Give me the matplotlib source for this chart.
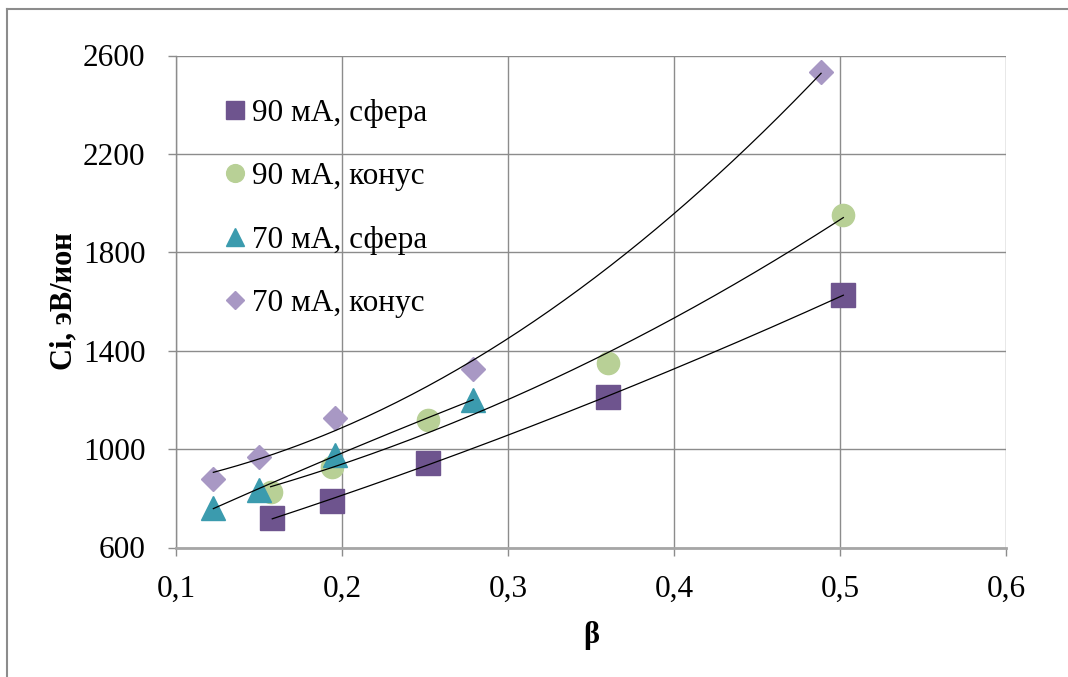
import numpy as np
import matplotlib
matplotlib.use("Agg")
import matplotlib.pyplot as plt
from matplotlib.lines import Line2D
from matplotlib.ticker import FuncFormatter

plt.rcParams['font.family'] = ['Liberation Serif', 'DejaVu Serif']

# data
beta_sph90 = [0.158, 0.194, 0.252, 0.360, 0.502]
ci_sph90 = [720, 790, 943, 1213, 1626]

beta_con90 = [0.157, 0.194, 0.252, 0.360, 0.502]
ci_con90 = [826, 927, 1118, 1349, 1952]

beta_sph70 = [0.1225, 0.150, 0.196, 0.279]
ci_sph70 = [761, 834, 976, 1200]

beta_con70 = [0.1225, 0.150, 0.196, 0.279, 0.4886]
ci_con70 = [878, 968, 1126, 1326, 2532]

x_ticks = [0.1, 0.2, 0.3, 0.4, 0.5, 0.6]
y_ticks = [600, 1000, 1400, 1800, 2200, 2600]

labels = ["90 мА, сфера", "90 мА, конус", "70 мА, сфера", "70 мА, конус"]
colors = ["#6e548e", "#b8d096", "#3b9bae", "#a898c4"]
markers = ["s", "o", "^", "D"]
sizes = [17, 16, 17, 12]

series = [(beta_sph90, ci_sph90), (beta_con90, ci_con90),
          (beta_sph70, ci_sph70), (beta_con70, ci_con70)]

fig = plt.figure(figsize=(10.68, 6.77), dpi=100)
ax = fig.add_axes([176/1068, 1 - 547.5/677, 830/1068, 492/677])

handles = []
for (x, y), lab, c, m, s in zip(series, labels, colors, markers, sizes):
    h, = ax.plot(x, y, linestyle="none", marker=m, ms=s, color=c,
                 markeredgecolor=c, label=lab, zorder=3)
    handles.append(h)
    # 2nd order polynomial trend line
    coef = np.polyfit(x, y, 2)
    xx = np.linspace(min(x), max(x), 200)
    ax.plot(xx, np.polyval(coef, xx), color="black", lw=0.9, zorder=4)

ax.set_xlim(0.1, 0.6)
ax.set_ylim(600, 2600)
ax.set_xticks(x_ticks)
ax.set_yticks(y_ticks)
ax.xaxis.set_major_formatter(FuncFormatter(lambda v, p: f"{v:.1f}".replace(".", ",")))
ax.yaxis.set_major_formatter(FuncFormatter(lambda v, p: f"{v:.0f}"))

ax.grid(True, color="#8c8c8c", lw=1.0)
ax.set_axisbelow(True)
for side in ["top", "right"]:
    ax.spines[side].set_visible(False)
ax.spines["left"].set_color("#8c8c8c")
ax.spines["left"].set_linewidth(1)
ax.spines["bottom"].set_color("#a6a6a6")
ax.spines["bottom"].set_linewidth(2)

ax.tick_params(axis="both", colors="#8c8c8c", labelcolor="black", length=6,
               width=1, labelsize=22.5)
ax.tick_params(axis="x", pad=14)
ax.tick_params(axis="y", pad=16)

ax.set_xlabel("β", fontsize=22, fontweight="bold", labelpad=12)
ax.set_ylabel("Ci, эВ/ион", fontsize=22, fontweight="bold", labelpad=3)

leg = ax.legend(handles=handles, loc="upper left", bbox_to_anchor=(0.045, 0.937),
                frameon=False, fontsize=22.5, handlelength=0.6, handletextpad=0.25,
                labelspacing=1.1, markerscale=0.8, borderaxespad=0)

# outer frame of the chart area
fig.add_artist(Line2D([7/1068, 7/1068], [0, 1 - 9/677], color="#8c8c8c", lw=1.5,
                      transform=fig.transFigure))
fig.add_artist(Line2D([7/1068, 1], [1 - 9/677, 1 - 9/677], color="#8c8c8c", lw=1.5,
                      transform=fig.transFigure))

fig.savefig("out.png", dpi=100)
